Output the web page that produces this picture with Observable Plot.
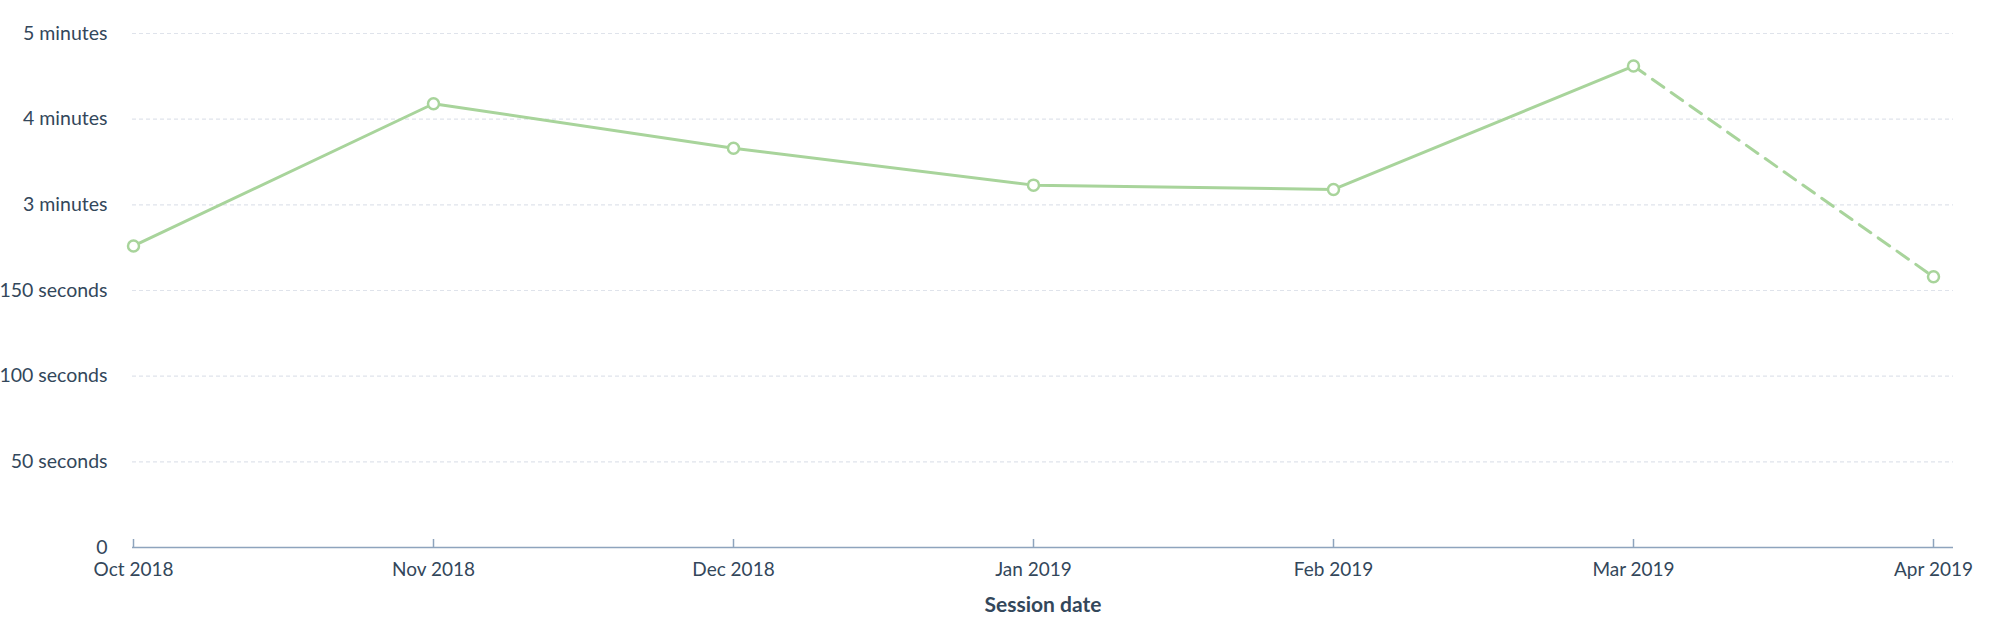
<!DOCTYPE html>
<html>
<head>
<meta charset="utf-8">
<script src="https://cdn.jsdelivr.net/npm/d3@7"></script>
<script src="https://cdn.jsdelivr.net/npm/@observablehq/plot@0.6"></script>
<style>
  html, body { margin: 0; padding: 0; background: #fff; }
</style>
</head>
<body>
<div id="chart"></div>
<script>
const months = ["Oct 2018", "Nov 2018", "Dec 2018", "Jan 2019", "Feb 2019", "Mar 2019", "Apr 2019"];
const seconds = [176, 259, 233, 211.5, 209, 281, 158];
const yTicks = [0, 50, 100, 150, 200, 250, 300];
const yTickLabels = ["0", "50 seconds", "100 seconds", "150 seconds", "3 minutes", "4 minutes", "5 minutes"];
const xLabel = "Session date";

const data = months.map((m, i) => ({month: m, value: seconds[i]}));
const solid = data.slice(0, data.length - 1);
const dashed = data.slice(data.length - 2);
const labelOf = new Map(yTicks.map((t, i) => [t, yTickLabels[i]]));

const green = "#a8d49b";
const textColor = "#33475b";

const chart = Plot.plot({
  width: 1999,
  height: 632,
  marginLeft: 132,
  marginRight: 66,
  marginTop: 33,
  marginBottom: 85,
  style: {fontFamily: "Lato", fontSize: "19px", color: textColor, background: "#fff"},
  x: {type: "point", domain: months, padding: 0},
  y: {domain: [0, 300]},
  marks: [
    Plot.ruleY(yTicks.filter(t => t > 0), {stroke: "#dfe3eb", strokeWidth: 1.2, strokeDasharray: "4,3", insetRight: -20}),
    Plot.ruleY([0], {stroke: "#8ea4bd", strokeWidth: 1.5, insetRight: -20}),
    Plot.ruleX(months, {x: d => d, y1: 0, y2: 0, insetTop: -8, stroke: "#8ea4bd", strokeWidth: 1.5}),
    Plot.axisY({ticks: yTicks, tickFormat: d => labelOf.get(d), tickSize: 0, tickPadding: 25, label: null, fill: textColor, fontSize: 19.5}),
    Plot.axisX({tickSize: 0, tickPadding: 15, label: null, fill: textColor, fontSize: 19}),
    Plot.text([xLabel], {frameAnchor: "bottom", dx: 10, dy: 64, fontWeight: "bold", fontSize: 21, fill: textColor}),
    Plot.line(solid, {x: "month", y: "value", stroke: green, strokeWidth: 3}),
    Plot.line(dashed, {x: "month", y: "value", stroke: green, strokeWidth: 3, strokeDasharray: "14,9"}),
    Plot.dot(data, {x: "month", y: "value", r: 5.5, fill: "#fff", stroke: green, strokeWidth: 2.5})
  ]
});
document.getElementById("chart").appendChild(chart);
</script>
</body>
</html>
